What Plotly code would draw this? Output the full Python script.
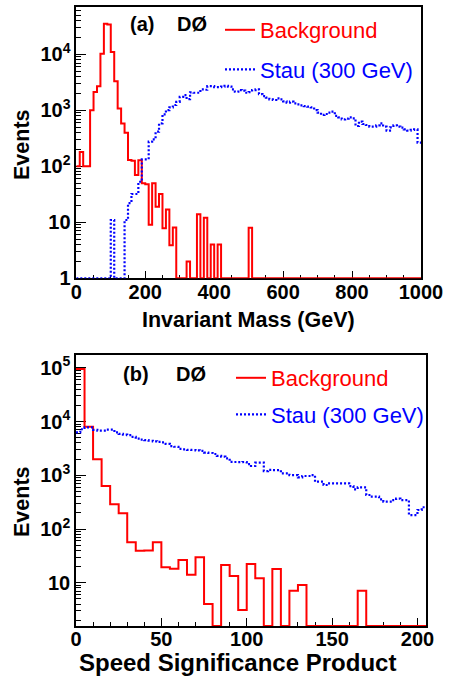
import numpy as np
import plotly.graph_objects as go

# ---------------- data ----------------
mass_bin_width = 10  # GeV
mass_background = [100, 181, 100, 100, 1000, 2130, 2690, 10240, 35200, 34000,
                   11000, 3300, 1080, 580, 398, 130, 126, 70, 128, 50,
                   48, 9, 50, 19, 32, 7.8, 17, 3.9, 8.1, 0,
                   0, 0, 2, 0, 0, 14, 0, 12, 0, 4,
                   0, 4, 0, 0, 0, 0, 0, 0, 0, 0,
                   8, 0, 0, 0, 0, 0, 0, 0, 0, 0,
                   0, 0, 0, 0, 0, 0, 0, 0, 0, 0,
                   0, 0, 0, 0, 0, 0, 0, 0, 0, 0,
                   0, 0, 0, 0, 0, 0, 0, 0, 0, 0,
                   0, 0, 0, 0, 0, 0, 0, 0, 0, 0]
mass_stau = [0, 0, 0, 0, 0, 0, 0, 0, 0, 0,
             11, 0, 0, 0, 11, 22, 32, 32, 53, 133,
             133, 275, 303, 415, 585, 850, 1010, 1130, 1245, 1420,
             1740, 1870, 1580, 2090, 2060, 2060, 2370, 2330, 2700, 2700,
             2600, 2600, 2650, 2750, 2650, 2370, 2150, 2300, 2240, 2060,
             2120, 2300, 2370, 1950, 1800, 1680, 1570, 1530, 1640, 1570,
             1450, 1370, 1430, 1330, 1280, 1230, 1190, 1160, 1130, 1010,
             910, 826, 860, 910, 946, 793, 750, 690, 710, 750,
             720, 525, 628, 570, 547, 511, 511, 540, 586, 511,
             434, 497, 540, 511, 490, 458, 434, 446, 458, 265]

speed_bkg_bin_width = 5
speed_background = [95000, 8040, 1990, 630, 288, 196, 56.5, 39.5, 40, 56.5,
                    19.4, 18.2, 26.5, 14.1, 29.7, 4.0, 0, 21.4, 13.3, 3.1,
                    22.3, 12.1, 0, 18, 0, 7.1, 9.1, 0, 0, 0,
                    0, 0, 0, 7.1, 0, 0, 0, 0, 0, 0, 0]
speed_stau_bin_width = 2.5
speed_stau = [6300, 7200, 7800, 7800, 7000, 6800, 6800, 7100, 7100, 6300,
              5900, 5700, 5600, 5200, 4800, 4600, 4500, 4400, 4300, 4200,
              4100, 3850, 3500, 3400, 3100, 3050, 2980, 2960, 2900, 2840,
              2650, 2600, 2490, 2300, 2220, 2070, 1780, 1770, 1760, 1770,
              1620, 1490, 1720, 1720, 1200, 1260, 1250, 1250, 1090, 1090,
              1010, 1010, 918, 970, 970, 1010, 760, 760, 660, 708,
              708, 708, 708, 708, 631, 548, 597, 597, 430, 400,
              400, 357, 323, 323, 345, 367, 345, 345, 182, 182,
              226, 254]

series_names = ["Background", "Stau (300 GeV)"]
y_tick_vals_top = [1, 10, 100, 1000, 10000]
y_tick_text_top = ["1", "10", "10<sup>2</sup>", "10<sup>3</sup>", "10<sup>4</sup>"]
y_tick_vals_bot = [10, 100, 1000, 10000, 100000]
y_tick_text_bot = ["10", "10<sup>2</sup>", "10<sup>3</sup>", "10<sup>4</sup>", "10<sup>5</sup>"]

# ---------------- helpers ----------------
W, H = 457, 681
FONT = "Liberation Sans"
RED = "#ff0000"
BLUE = "#0000ff"
DOTS = "2px,2px"

TOP_YMIN_LOG = 0.0
TOP_YMAX_LOG = 4.84
BOT_YMIN_LOG = 0.194
BOT_YMAX_LOG = 5.24


def px_x(x):
    return x / W


def px_y(y):
    return 1 - y / H


def step(values, width, floor):
    v = np.asarray(values, dtype=float)
    edges = np.arange(len(v) + 1) * width
    y = np.where(v > 0, v, floor)
    y = np.append(y, y[-1])
    return edges, y


def minor_log(lo, hi):
    vals = []
    for d in range(lo, hi + 1):
        for m in range(2, 10):
            vals.append(m * 10 ** d)
    return vals


fig = go.Figure()

x, y = step(mass_background, mass_bin_width, 10 ** TOP_YMIN_LOG)
fig.add_trace(go.Scatter(x=x, y=y, mode="lines", line=dict(color=RED, width=2, shape="hv"),
                         name=f"<span style='color:{RED}'>{series_names[0]}</span>",
                         legend="legend", legendgroup="a1", xaxis="x", yaxis="y"))
x, y = step(mass_stau, mass_bin_width, 10 ** TOP_YMIN_LOG)
fig.add_trace(go.Scatter(x=x, y=y, mode="lines", line=dict(color=BLUE, width=2.2, shape="hv", dash=DOTS),
                         name=f"<span style='color:{BLUE}'>{series_names[1]}</span>",
                         legend="legend", legendgroup="a2", xaxis="x", yaxis="y"))
x, y = step(speed_background, speed_bkg_bin_width, 10 ** BOT_YMIN_LOG)
fig.add_trace(go.Scatter(x=x, y=y, mode="lines", line=dict(color=RED, width=2, shape="hv"),
                         name=f"<span style='color:{RED}'>{series_names[0]}</span>",
                         legend="legend2", legendgroup="b1", xaxis="x2", yaxis="y2"))
x, y = step(speed_stau, speed_stau_bin_width, 10 ** BOT_YMIN_LOG)
fig.add_trace(go.Scatter(x=x, y=y, mode="lines", line=dict(color=BLUE, width=2.2, shape="hv", dash=DOTS),
                         name=f"<span style='color:{BLUE}'>{series_names[1]}</span>",
                         legend="legend2", legendgroup="b2", xaxis="x2", yaxis="y2"))

tickfont = dict(family=FONT, size=20, color="black", weight="bold")
common_axis = dict(showline=True, linecolor="black", linewidth=1.5, mirror=True,
                   ticks="inside", tickcolor="black", tickwidth=1, automargin=False,
                   layer="below traces",
                   showgrid=False, zeroline=False, tickfont=tickfont)

fig.update_layout(
    width=W, height=H, autosize=False,
    margin=dict(l=0, r=0, t=0, b=0, pad=0, autoexpand=False),
    paper_bgcolor="white", plot_bgcolor="white",
    xaxis=dict(domain=[px_x(76.3), px_x(421)], range=[0, 1000], anchor="y",
               tickmode="linear", tick0=0, dtick=200, ticklen=8, ticklabelstandoff=-5,
               minor=dict(ticks="inside", ticklen=4, dtick=50, tick0=0, tickcolor="black", showgrid=False),
               **common_axis),
    yaxis=dict(domain=[px_y(278.3), px_y(7.3)], type="log", range=[TOP_YMIN_LOG, TOP_YMAX_LOG], anchor="x",
               tickmode="array", tickvals=y_tick_vals_top, ticktext=y_tick_text_top, ticklen=10,
               minor=dict(ticks="inside", ticklen=5, tickmode="array", tickvals=minor_log(0, 4),
                          tickcolor="black", showgrid=False),
               **common_axis),
    xaxis2=dict(domain=[px_x(76), px_x(426)], range=[0, 205], anchor="y2",
                tickmode="linear", tick0=0, dtick=50, ticklen=8, ticklabelstandoff=-6,
                minor=dict(ticks="inside", ticklen=4, dtick=10, tick0=0, tickcolor="black", showgrid=False),
                **common_axis),
    yaxis2=dict(domain=[px_y(626), px_y(355)], type="log", range=[BOT_YMIN_LOG, BOT_YMAX_LOG], anchor="x2",
                tickmode="array", tickvals=y_tick_vals_bot, ticktext=y_tick_text_bot, ticklen=10,
                minor=dict(ticks="inside", ticklen=5, tickmode="array", tickvals=minor_log(0, 5),
                           tickcolor="black", showgrid=False),
                **common_axis),
    legend=dict(x=px_x(220), y=px_y(9), xanchor="left", yanchor="top",
                bgcolor="rgba(0,0,0,0)", borderwidth=0, tracegroupgap=8,
                font=dict(family=FONT, size=22), itemwidth=30),
    legend2=dict(x=px_x(231), y=px_y(357), xanchor="left", yanchor="top",
                 bgcolor="rgba(0,0,0,0)", borderwidth=0, tracegroupgap=5,
                 font=dict(family=FONT, size=22), itemwidth=30),
    showlegend=True,
)

ann_font = dict(family=FONT, size=20, color="black", weight="bold")
title_font = dict(family=FONT, size=21.5, color="black", weight="bold")
title_font_b = dict(family=FONT, size=24, color="black", weight="bold")
annotations = [
    dict(text="(a)", x=px_x(141.5), y=px_y(23.5), font=ann_font),
    dict(text="DØ", x=px_x(191.5), y=px_y(23.5), font=ann_font),
    dict(text="(b)", x=px_x(135.5), y=px_y(373.5), font=ann_font),
    dict(text="DØ", x=px_x(190.5), y=px_y(373.5), font=ann_font),
    dict(text="Invariant Mass (GeV)", x=px_x(248), y=px_y(320), font=title_font),
    dict(text="Speed Significance Product", x=px_x(237), y=px_y(662), font=title_font_b),
    dict(text="Events", x=px_x(22), y=px_y(145), font=title_font, textangle=-90),
    dict(text="Events", x=px_x(22), y=px_y(502), font=title_font, textangle=-90),
]
for a in annotations:
    a.update(xref="paper", yref="paper", showarrow=False, xanchor="center", yanchor="middle")
fig.update_layout(annotations=annotations)

fig.write_html("out.html", config={"displayModeBar": False},
               post_script="document.body.style.margin='0px';")
